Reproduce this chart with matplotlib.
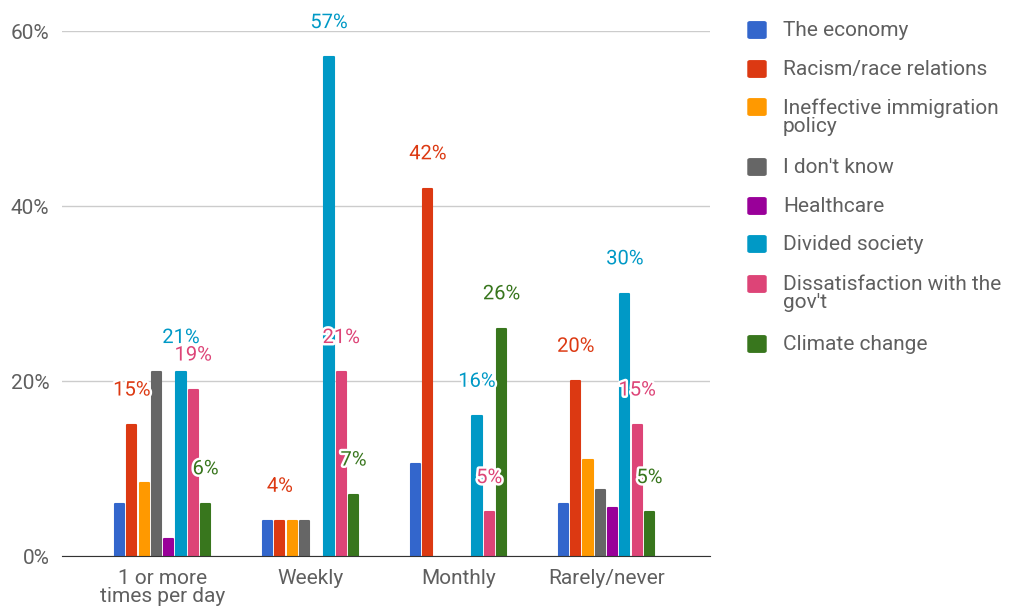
import numpy as np
import matplotlib
matplotlib.use("Agg")
import matplotlib.pyplot as plt
import matplotlib.patheffects as pe
from matplotlib.patches import FancyBboxPatch

plt.rcParams['font.family'] = ['Roboto', 'DejaVu Sans']

# survey groups and answers
groups = ['1 or more\ntimes per day', 'Weekly', 'Monthly', 'Rarely/never']
series = ['The economy', 'Racism/race relations', 'Ineffective immigration\npolicy',
          "I don't know", 'Healthcare', 'Divided society',
          "Dissatisfaction with the\ngov't", 'Climate change']
colors = ['#3366cc', '#dc3912', '#ff9900', '#666666',
          '#990099', '#0099c6', '#dd4477', '#38761d']

economy = [6, 4, 10.5, 6]
racism = [15, 4, 42, 20]
immigration = [8.3, 4, 0, 11]
dont_know = [21, 4, 0, 7.5]
healthcare = [2, 0, 0, 5.5]
divided = [21, 57, 16, 30]
dissatisfaction = [19, 21, 5, 15]
climate = [6, 7, 26, 5]

values = [economy, racism, immigration, dont_know,
          healthcare, divided, dissatisfaction, climate]
# only these series get value labels
labelled = [1, 5, 6, 7]

fig = plt.figure(figsize=(10.09, 6.08), dpi=100)
ax = fig.add_axes([0.0614, 0.0855, 0.6423, 0.8635])

x = np.arange(len(groups))
step = 0.083
width = 0.062
for k, vals in enumerate(values):
    xs = x + (k - 3.5) * step
    vals = np.array(vals, dtype=float)
    keep = vals > 0
    ax.bar(xs[keep], vals[keep], width=width, color=colors[k],
           edgecolor=colors[k], linewidth=1.5, joinstyle='round', zorder=3)
    if k in labelled:
        for xi, v in zip(xs, vals):
            ax.annotate('%d%%' % round(v), (xi, v), xytext=(0, 25),
                        textcoords='offset points', ha='center', va='center',
                        fontsize=14.5, color=colors[k], zorder=5,
                        path_effects=[pe.withStroke(linewidth=3.5, foreground='white')])

ax.set_xlim(-0.68, 3.70)
ax.set_ylim(0, 60)
ax.set_yticks([0, 20, 40, 60])
ax.set_yticklabels(['0%', '20%', '40%', '60%'])
ax.set_xticks(x)
ax.set_xticklabels(groups, linespacing=0.95)
ax.tick_params(axis='both', length=0, labelsize=15, colors='#5f5f5f')
ax.tick_params(axis='y', pad=9)
ax.tick_params(axis='x', pad=9)
ax.grid(axis='y', color='#cccccc', linewidth=1, zorder=0)
for s in ['top', 'right', 'left']:
    ax.spines[s].set_visible(False)
ax.spines['bottom'].set_color('#333333')
ax.spines['bottom'].set_zorder(4)

# legend drawn on the figure
legend_y = [30, 69, 107, 167, 206, 244, 284, 344]
for k, name in enumerate(series):
    yy = 1 - legend_y[k] / 608
    fig.patches.append(FancyBboxPatch((750 / 1009, yy - 7 / 608), 14 / 1009, 14 / 608,
                                      boxstyle='round,pad=0.002,rounding_size=0.002',
                                      transform=fig.transFigure, color=colors[k]))
    fig.text(783 / 1009, yy + 9 / 608, name, fontsize=15, color='#5f5f5f',
             va='top', ha='left', linespacing=0.95)

fig.savefig('out.png', dpi=100)
